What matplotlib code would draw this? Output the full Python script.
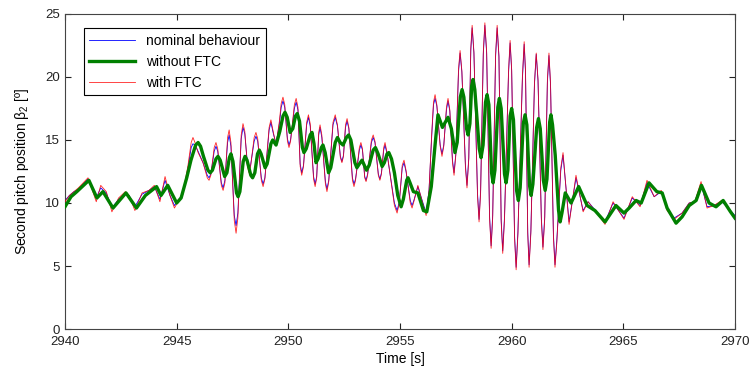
import matplotlib
matplotlib.use("Agg")
import matplotlib.pyplot as plt

plt.rcParams['font.family'] = ['Liberation Sans', 'DejaVu Sans']
plt.rcParams['mathtext.fontset'] = 'custom'
plt.rcParams['mathtext.rm'] = 'Liberation Sans'
plt.rcParams['mathtext.it'] = 'Liberation Sans:italic'

# Time axis of the thick "without FTC" trace
t_noftc = [2940.0, 2940.27, 2940.53, 2941.07, 2941.43, 2941.7, 2942.15, 2942.73, 2943.2, 2943.6,
           2944.1, 2944.3, 2944.6,
           2945.0, 2945.2, 2945.45, 2945.64, 2945.85, 2945.96, 2946.07, 2946.2, 2946.4, 2946.5,
           2946.6, 2946.76, 2946.85, 2946.95, 2947.15, 2947.25, 2947.36, 2947.43, 2947.52, 2947.68,
           2947.75, 2947.83, 2947.98, 2948.06, 2948.15, 2948.32, 2948.4, 2948.5, 2948.62, 2948.7,
           2948.78, 2948.96, 2949.05, 2949.22, 2949.3, 2949.45, 2949.62, 2949.76, 2949.85, 2949.95,
           2950.08, 2950.2, 2950.32, 2950.4, 2950.5, 2950.63, 2950.7, 2950.8, 2950.98, 2951.06,
           2951.15, 2951.24, 2951.33, 2951.48, 2951.55, 2951.65, 2951.8, 2951.9, 2952.1, 2952.2,
           2952.32, 2952.45, 2952.6, 2952.7, 2952.8, 2952.98, 2953.07, 2953.18, 2953.3, 2953.4,
           2953.5, 2953.62, 2953.8, 2953.9, 2954.02, 2954.2, 2954.3, 2954.42, 2954.5, 2954.62,
           2954.75, 2954.9, 2955.05, 2955.15, 2955.3, 2955.36, 2955.45, 2955.6, 2955.8, 2956.05,
           2956.2, 2956.4, 2956.57, 2956.7, 2956.9, 2957.15, 2957.3, 2957.46, 2957.56, 2957.7,
           2957.78, 2957.86, 2957.98, 2958.05, 2958.13, 2958.21, 2958.27, 2958.35, 2958.55, 2958.63,
           2958.72, 2958.83, 2958.9, 2958.98, 2959.1, 2959.17, 2959.25, 2959.38, 2959.45, 2959.53,
           2959.68, 2959.75, 2959.83, 2959.93, 2960.0, 2960.08, 2960.22, 2960.3, 2960.38, 2960.52,
           2960.6, 2960.68, 2960.8, 2960.87, 2960.95, 2961.12, 2961.2, 2961.28, 2961.42, 2961.5,
           2961.58, 2961.7, 2961.76, 2961.83, 2961.95, 2962.1, 2962.17, 2962.25, 2962.4,
           2962.66, 2963.0, 2963.38, 2963.73, 2964.18, 2964.67, 2965.03, 2965.26, 2965.57, 2965.8,
           2966.15, 2966.5, 2966.74, 2966.96, 2967.36, 2967.63, 2967.95, 2968.26, 2968.5, 2968.84,
           2969.15, 2969.47, 2969.8, 2970.0]
y_noftc = [9.7, 10.5, 10.9, 11.8, 10.4, 10.9, 9.6, 10.8, 9.6, 10.6,
           11.3, 10.6, 11.4,
           10.0, 10.4, 12.0, 13.4, 14.6, 14.8, 14.5, 13.7, 12.6, 12.4,
           12.6, 13.5, 13.7, 13.4, 12.1, 12.4, 13.6, 13.9, 13.3, 10.8,
           10.5, 10.9, 13.3, 13.7, 13.4, 12.2, 12.0, 12.4, 13.9, 14.2,
           13.9, 12.8, 13.1, 14.7, 15.0, 14.6, 15.7, 16.9, 17.2, 16.8,
           15.6, 15.9, 16.9, 17.1, 16.5, 14.4, 14.0, 14.3, 15.4, 15.6,
           14.7, 13.2, 13.5, 14.4, 14.6, 14.0, 12.4, 12.8, 14.8, 15.2,
           14.8, 14.6, 15.2, 15.4, 15.0, 13.2, 12.8, 13.1, 13.4, 13.0,
           12.6, 13.0, 14.2, 14.4, 13.9, 12.9, 13.2, 13.9, 14.0, 13.5,
           12.4, 10.6, 9.7, 10.3, 11.8, 12.0, 11.6, 10.9, 10.8, 9.4,
           9.3, 11.3, 14.6, 17.0, 16.0, 16.8, 15.9, 14.0, 14.8, 18.4,
           19.0, 18.4, 15.9, 15.4, 16.3, 19.3, 19.8, 19.0, 14.3, 13.6,
           14.6, 18.0, 18.6, 17.8, 12.4, 11.6, 12.6, 17.6, 18.3, 17.5,
           12.3, 11.6, 12.6, 16.9, 17.5, 16.6, 11.0, 10.2, 11.2, 16.3,
           17.0, 16.2, 11.4, 10.6, 11.5, 16.0, 16.7, 15.9, 11.8, 11.0,
           11.9, 16.4, 17.0, 16.2, 13.8, 9.4, 8.5, 9.2, 10.8,
           10.0, 11.3, 9.8, 9.4, 8.5, 9.8, 9.2, 9.6, 10.2, 10.0,
           11.6, 10.9, 10.8, 9.6, 8.4, 8.9, 9.8, 10.2, 11.4, 10.0,
           9.7, 10.2, 9.3, 8.8]

# Time axis shared by the nominal and "with FTC" traces
t_ftc = [2940.0, 2940.2, 2940.4, 2940.6, 2941.03, 2941.4, 2941.6, 2941.85, 2942.1, 2942.4,
         2942.7, 2942.87, 2943.13, 2943.45, 2943.76, 2944.0, 2944.25, 2944.48, 2944.7, 2944.9,
         2945.28, 2945.5, 2945.65, 2945.73, 2945.82, 2945.96, 2946.18, 2946.37, 2946.45, 2946.53,
         2946.68, 2946.76, 2946.84, 2947.0, 2947.08, 2947.16, 2947.28, 2947.35, 2947.43, 2947.58,
         2947.66, 2947.74, 2947.89, 2947.97, 2948.05, 2948.17, 2948.24, 2948.31, 2948.47, 2948.55,
         2948.63, 2948.79, 2948.87, 2948.95, 2949.14, 2949.22, 2949.33, 2949.45, 2949.6, 2949.68,
         2949.76, 2949.84, 2949.96, 2950.03, 2950.1, 2950.27, 2950.35, 2950.43, 2950.53, 2950.6,
         2950.68, 2950.82, 2950.9, 2950.98, 2951.13, 2951.2, 2951.27, 2951.36, 2951.42, 2951.5,
         2951.66, 2951.73, 2951.81, 2952.0, 2952.1, 2952.2, 2952.33, 2952.4, 2952.47, 2952.56,
         2952.63, 2952.71, 2952.87, 2952.94, 2953.01, 2953.18, 2953.25, 2953.32, 2953.42, 2953.48,
         2953.55, 2953.72, 2953.8, 2953.88, 2954.03, 2954.1, 2954.17, 2954.27, 2954.33, 2954.42,
         2954.75, 2954.87, 2954.97, 2955.1, 2955.18, 2955.27, 2955.46, 2955.54, 2955.62, 2955.8,
         2956.17, 2956.3, 2956.42, 2956.5, 2956.57, 2956.65, 2956.8, 2956.88, 2956.96, 2957.08,
         2957.15, 2957.23, 2957.35, 2957.42, 2957.5, 2957.62, 2957.69, 2957.77, 2957.93, 2958.0,
         2958.08, 2958.17, 2958.23, 2958.31, 2958.47, 2958.54, 2958.61, 2958.73, 2958.8, 2958.88,
         2959.01, 2959.08, 2959.15, 2959.28, 2959.35, 2959.43, 2959.53, 2959.6, 2959.68, 2959.86,
         2959.93, 2960.0, 2960.13, 2960.2, 2960.28, 2960.48, 2960.56, 2960.62, 2960.72, 2960.78,
         2960.86, 2961.02, 2961.1, 2961.18, 2961.33, 2961.4, 2961.48, 2961.6, 2961.67, 2961.74,
         2961.87, 2961.94, 2962.02, 2962.2, 2962.3,
         2962.57, 2962.88, 2963.2, 2963.42, 2963.9, 2964.18, 2964.54, 2965.03, 2965.4, 2965.75,
         2966.06, 2966.38, 2966.7, 2966.96, 2967.27, 2967.63, 2967.95, 2968.2, 2968.48, 2968.75,
         2969.06, 2969.4, 2969.65, 2970.0]
y_ftc = [10.1, 10.6, 10.9, 11.2, 12.0, 10.1, 11.4, 10.9, 9.3, 10.4,
         10.9, 10.6, 9.4, 10.8, 11.0, 11.4, 10.1, 12.1, 10.6, 9.6,
         10.8, 12.9, 14.8, 15.2, 14.8, 14.0, 13.2, 12.0, 11.8, 12.2,
         14.4, 14.8, 14.3, 11.4, 11.0, 11.6, 15.2, 15.8, 14.8, 8.6,
         7.6, 8.8, 15.4, 16.3, 15.7, 12.9, 12.4, 12.9, 15.2, 15.6,
         15.1, 11.8, 11.3, 11.9, 16.0, 16.6, 15.6, 14.6, 16.5, 17.9,
         18.4, 17.8, 14.9, 14.4, 14.9, 17.8, 18.3, 17.6, 12.9, 12.2,
         12.9, 16.4, 17.0, 16.3, 11.9, 11.3, 12.0, 15.6, 16.2, 15.4,
         11.5, 10.9, 11.7, 16.4, 17.0, 16.2, 13.6, 13.2, 13.7, 16.2,
         16.7, 16.0, 11.8, 11.3, 11.8, 14.4, 14.8, 14.3, 12.0, 11.7,
         12.2, 15.0, 15.4, 14.9, 12.2, 11.8, 12.3, 14.4, 14.8, 14.0,
         9.8, 9.2, 10.0, 13.0, 13.4, 12.6, 10.0, 9.6, 10.1, 11.4,
         9.0, 11.0, 15.5, 18.0, 18.6, 17.8, 14.5, 13.7, 14.5, 17.6,
         18.3, 17.4, 13.2, 12.2, 13.8, 20.6, 22.1, 20.5, 12.8, 11.2,
         13.5, 22.3, 24.1, 22.0, 10.6, 8.5, 10.8, 22.0, 24.3, 22.0,
         8.8, 6.4, 8.8, 21.8, 24.1, 21.7, 8.5, 6.0, 8.7, 20.5,
         22.9, 20.6, 7.2, 4.7, 7.5, 20.0, 22.8, 20.5, 7.5, 4.9,
         7.6, 19.5, 21.9, 19.8, 8.6, 6.3, 8.7, 19.8, 21.9, 19.5,
         7.3, 4.9, 6.8, 12.8, 14.0,
         8.3, 12.2, 9.3, 10.1, 9.0, 8.3, 10.1, 8.7, 10.5, 9.7,
         11.8, 10.5, 11.0, 9.4, 8.7, 9.2, 10.0, 10.1, 11.7, 9.6,
         9.8, 10.2, 9.7, 8.9]
y_nominal = [10.2, 10.6, 10.9, 11.1, 11.9, 10.4, 11.2, 10.8, 9.6, 10.3,
             10.8, 10.6, 9.7, 10.7, 11.0, 11.3, 10.3, 11.8, 10.6, 9.8,
             10.7, 12.7, 14.4, 14.7, 14.6, 14.1, 13.2, 12.2, 12.0, 12.3,
             14.1, 14.5, 14.1, 11.6, 11.2, 11.8, 14.8, 15.4, 14.5, 9.0,
             8.2, 9.2, 15.1, 16.0, 15.5, 13.1, 12.6, 13.0, 14.9, 15.3,
             14.9, 12.0, 11.5, 12.0, 15.8, 16.4, 15.5, 14.7, 16.3, 17.6,
             18.1, 17.6, 15.1, 14.6, 15.0, 17.5, 18.0, 17.4, 13.1, 12.4,
             13.0, 16.2, 16.8, 16.1, 12.1, 11.5, 12.1, 15.4, 16.0, 15.2,
             11.7, 11.1, 11.8, 16.2, 16.8, 16.1, 13.7, 13.3, 13.8, 16.0,
             16.5, 15.9, 12.0, 11.5, 11.9, 14.2, 14.6, 14.2, 12.1, 11.8,
             12.3, 14.8, 15.2, 14.8, 12.3, 11.9, 12.4, 14.2, 14.6, 13.9,
             10.0, 9.4, 10.1, 12.8, 13.2, 12.5, 10.2, 9.8, 10.2, 11.3,
             9.2, 11.0, 15.3, 17.8, 18.3, 17.7, 14.6, 13.9, 14.6, 17.4,
             18.1, 17.3, 13.4, 12.4, 13.9, 20.4, 21.9, 20.4, 13.0, 11.4,
             13.6, 22.1, 23.9, 21.9, 10.8, 8.7, 11.0, 21.8, 24.1, 21.9,
             9.0, 6.6, 9.0, 21.6, 23.9, 21.6, 8.7, 6.2, 8.9, 20.3,
             22.7, 20.5, 7.4, 4.9, 7.7, 19.8, 22.6, 20.4, 7.7, 5.1,
             7.8, 19.4, 21.8, 19.7, 8.8, 6.5, 8.9, 19.6, 21.7, 19.4,
             7.5, 5.1, 7.0, 12.6, 13.8,
             8.5, 12.0, 9.4, 10.1, 9.1, 8.5, 10.0, 8.8, 10.4, 9.8,
             11.6, 10.5, 10.9, 9.5, 8.8, 9.2, 10.0, 10.1, 11.5, 9.7,
             9.8, 10.1, 9.7, 9.0]

fig = plt.figure(figsize=(7.54, 3.74), dpi=100)
ax = fig.add_axes([0.0862, 0.1203, 0.8886, 0.8423])

ax.plot(t_ftc, y_nominal, color='#0000ff', lw=0.6, label='nominal behaviour', zorder=2)
ax.plot(t_noftc, y_noftc, color='#008000', lw=2.4, label='without FTC', zorder=4)
ax.plot(t_ftc, y_ftc, color='#ff0000', lw=0.6, alpha=0.85, label='with FTC', zorder=3)

ax.set_xlim(2940, 2970)
ax.set_ylim(0, 25)
ax.set_xticks(range(2940, 2971, 5))
ax.set_yticks(range(0, 26, 5))
ax.tick_params(direction='in', top=True, right=True, length=4, labelsize=9.5, colors='#222222')
ax.tick_params(axis='x', pad=5)
for s in ax.spines.values():
    s.set_color('#444444')
    s.set_linewidth(0.8)

ax.set_xlabel('Time [s]', fontsize=10, labelpad=3)
ax.set_ylabel(r'Second pitch position $\mathrm{\beta}_2$ [º]', fontsize=10, labelpad=10)

leg = ax.legend(loc='upper left', bbox_to_anchor=(0.028, 0.955), fontsize=10,
                handlelength=3.3, labelspacing=0.5, borderaxespad=0,
                fancybox=False, framealpha=1, edgecolor='black')
leg.get_frame().set_linewidth(0.8)

plt.savefig('out.png', dpi=100)
